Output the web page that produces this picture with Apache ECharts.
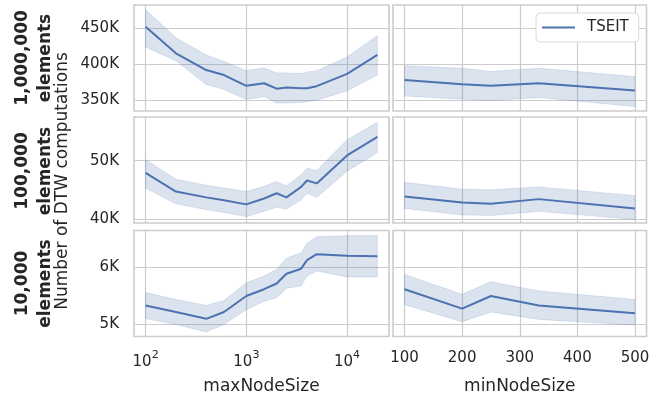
<!DOCTYPE html>
<html>
<head>
<meta charset="utf-8">
<script src="https://cdn.jsdelivr.net/npm/echarts@6/dist/echarts.min.js"></script>
<style>
  html, body { margin: 0; padding: 0; background: #fff; }
  #chart { width: 662px; height: 398px; }
</style>
</head>
<body>
<div id="chart"></div>
<script>
// x values of the two sweeps
const maxNodeSize = [100, 200, 400, 600, 1000, 1500, 2000, 2500, 3500, 4000, 5000, 10000, 20000];
const minNodeSize = [100, 200, 250, 333, 500];

// DTW computations (thousands), maxNodeSize sweep: mean, lower / upper of the band
const max1M   = [452.3, 415.3, 392, 385, 370, 373.6, 366, 367.6, 366.5, 366.5, 369.5, 386.6, 413];
const max1MLo = [424, 405, 372, 365, 351, 355, 346, 346, 347, 348, 350, 363, 385];
const max1MHi = [476, 437, 413, 404, 391, 395, 388, 388, 387, 389, 391, 410, 440];

const max100K   = [47.9, 44.7, 43.7, 43.2, 42.5, 43.5, 44.4, 43.7, 45.5, 46.6, 46.1, 50.9, 54.1];
const max100KLo = [45.3, 42.6, 41.6, 41.1, 40.4, 41.3, 42.0, 41.7, 43.3, 44.4, 43.7, 48.2, 51.4];
const max100KHi = [50.2, 46.8, 45.8, 45.3, 44.7, 45.6, 46.4, 45.7, 47.6, 48.7, 48.3, 53.6, 56.6];

const max10K   = [5.335, 5.22, 5.1, 5.22, 5.5, 5.62, 5.72, 5.89, 5.98, 6.13, 6.235, 6.206, 6.2];
const max10KLo = [5.106, 5.0, 4.87, 5.0, 5.26, 5.41, 5.47, 5.635, 5.68, 5.85, 5.94, 5.835, 5.835];
const max10KHi = [5.56, 5.44, 5.335, 5.42, 5.735, 5.85, 5.97, 6.165, 6.26, 6.42, 6.54, 6.56, 6.56];

// minNodeSize sweep
const min1M   = [378.2, 372.2, 370, 373.6, 363.4];
const min1MLo = [356, 351.4, 349.5, 353.7, 341.2];
const min1MHi = [398, 394.4, 390, 394.4, 382.9];

const min100K   = [43.85, 42.8, 42.6, 43.4, 41.8];
const min100KLo = [41.8, 40.7, 40.6, 41.3, 39.9];
const min100KHi = [46.3, 45.1, 45.0, 45.5, 44.0];

const min10K   = [5.62, 5.28, 5.5, 5.335, 5.2];
const min10KLo = [5.35, 5.05, 5.22, 5.09, 4.99];
const min10KHi = [5.88, 5.53, 5.75, 5.59, 5.44];

// tick labels
const rowLabels = ['1,000,000', '100,000', '10,000'];
const yTicks = [[350, 400, 450], [40, 50], [5, 6]];
const yRange = [[335, 482.4], [39.3, 57.5], [4.79, 6.65]];
const logTicks = [100, 1000, 10000];
const minTicks = [100, 200, 300, 400, 500];

const FONT = 'DejaVu Sans';
const TXT = '#262626';
const GRIDC = '#cccccc';
const BLUE = '#4c72b0';

const rowTops = [5, 117, 230.5];
const panels = [
  [max1M, max1MLo, max1MHi, min1M, min1MLo, min1MHi],
  [max100K, max100KLo, max100KHi, min100K, min100KLo, min100KHi],
  [max10K, max10KLo, max10KHi, min10K, min10KLo, min10KHi]
];

const grids = [], xAxes = [], yAxes = [], series = [];

function addPanel(idx, xs, mean, lo, hi) {
  // confidence band as one polygon, placed through the axes
  series.push({
    name: '_band' + idx, type: 'custom', xAxisIndex: idx, yAxisIndex: idx,
    silent: true, z: 1,
    encode: { x: 0, y: [1, 2] },
    data: xs.map((x, i) => [x, lo[i], hi[i]]),
    renderItem: function (params, api) {
      if (params.dataIndex !== 0) return;
      const up = xs.map((x, i) => api.coord([x, hi[i]]));
      const dn = xs.map((x, i) => api.coord([x, lo[i]])).reverse();
      return {
        type: 'polygon',
        shape: { points: up.concat(dn) },
        style: { fill: 'rgba(76,114,176,0.2)', stroke: 'rgba(76,114,176,0.16)', lineWidth: 1 }
      };
    }
  });
  series.push({
    name: 'TSEIT', type: 'line', xAxisIndex: idx, yAxisIndex: idx,
    symbol: 'none', z: 3,
    lineStyle: { color: BLUE, width: 2 },
    itemStyle: { color: BLUE },
    data: xs.map((x, i) => [x, mean[i]])
  });
}

const splitLine = { show: true, lineStyle: { color: GRIDC, width: 1.2 } };

panels.forEach((p, r) => {
  [0, 1].forEach(c => {
    const idx = r * 2 + c;
    grids.push({
      left: c === 0 ? 134 : 393, width: c === 0 ? 255 : 253.5,
      top: rowTops[r], height: 106,
      show: true, borderColor: GRIDC, borderWidth: 1.6, backgroundColor: '#fff'
    });
    const bottom = r === 2;
    if (c === 0) {
      xAxes.push({
        type: 'log', logBase: 10, gridIndex: idx, min: 76.73, max: 26069,
        axisLine: { show: false },
        axisTick: { show: false, customValues: logTicks },
        splitLine: splitLine,
        axisLabel: {
          show: bottom, customValues: logTicks, margin: 13,
          formatter: v => '{b|10}{sup|' + Math.round(Math.log10(v)) + '}',
          rich: {
            b: { fontFamily: FONT, fontSize: 15, color: TXT, lineHeight: 20, verticalAlign: 'bottom' },
            sup: { fontFamily: FONT, fontSize: 11, color: TXT, lineHeight: 12, verticalAlign: 'top' }
          }
        },
        name: bottom ? 'maxNodeSize' : '', nameLocation: 'middle', nameGap: 42,
        nameTextStyle: { fontFamily: FONT, fontSize: 17, color: TXT }
      });
    } else {
      xAxes.push({
        type: 'value', gridIndex: idx, min: 80, max: 520,
        axisLine: { show: false },
        axisTick: { show: false, customValues: minTicks },
        splitLine: splitLine,
        axisLabel: {
          show: bottom, customValues: minTicks, margin: 14,
          fontFamily: FONT, fontSize: 15, color: TXT
        },
        name: bottom ? 'minNodeSize' : '', nameLocation: 'middle', nameGap: 42,
        nameTextStyle: { fontFamily: FONT, fontSize: 17, color: TXT }
      });
    }
    yAxes.push({
      type: 'value', gridIndex: idx, min: yRange[r][0], max: yRange[r][1],
      axisLine: { show: false },
      axisTick: { show: false, customValues: yTicks[r] },
      splitLine: splitLine,
      axisLabel: {
        show: c === 0, customValues: yTicks[r], margin: 15,
        fontFamily: FONT, fontSize: 15, color: TXT,
        formatter: v => v + 'K'
      }
    });
    if (c === 0) addPanel(idx, maxNodeSize, p[0], p[1], p[2]);
    else addPanel(idx, minNodeSize, p[3], p[4], p[5]);
  });
});

// row titles and the shared y label
const rowCenters = [58, 171, 283.5];
const graphic = [];
rowLabels.forEach((lab, r) => {
  graphic.push({
    type: 'text', x: 22.5, y: rowCenters[r], rotation: Math.PI / 2,
    style: { text: lab, font: 'bold 17px "DejaVu Sans"', fill: TXT, textAlign: 'center', textVerticalAlign: 'middle' }
  });
  graphic.push({
    type: 'text', x: 45.5, y: rowCenters[r], rotation: Math.PI / 2,
    style: { text: 'elements', font: 'bold 17px "DejaVu Sans"', fill: TXT, textAlign: 'center', textVerticalAlign: 'middle' }
  });
});
graphic.push({
  type: 'text', x: 63, y: 181, rotation: Math.PI / 2,
  style: { text: 'Number of DTW computations', font: '17px "DejaVu Sans"', fill: TXT, textAlign: 'center', textVerticalAlign: 'middle' }
});

const chart = echarts.init(document.getElementById('chart'), null, { renderer: 'canvas' });
chart.setOption({
  animation: false,
  backgroundColor: '#fff',
  grid: grids,
  xAxis: xAxes,
  yAxis: yAxes,
  series: series,
  graphic: graphic,
  legend: {
    data: [{ name: 'TSEIT', icon: 'rect' }], left: 536, top: 13,
    padding: [7, 10, 7, 6], itemWidth: 33, itemHeight: 2,
    itemStyle: { color: BLUE },
    backgroundColor: '#fff', borderColor: '#d9d9d9', borderWidth: 1, borderRadius: 4,
    textStyle: { fontFamily: FONT, fontSize: 15, color: TXT, padding: [0, 0, 0, 7] }
  }
});
</script>
</body>
</html>
